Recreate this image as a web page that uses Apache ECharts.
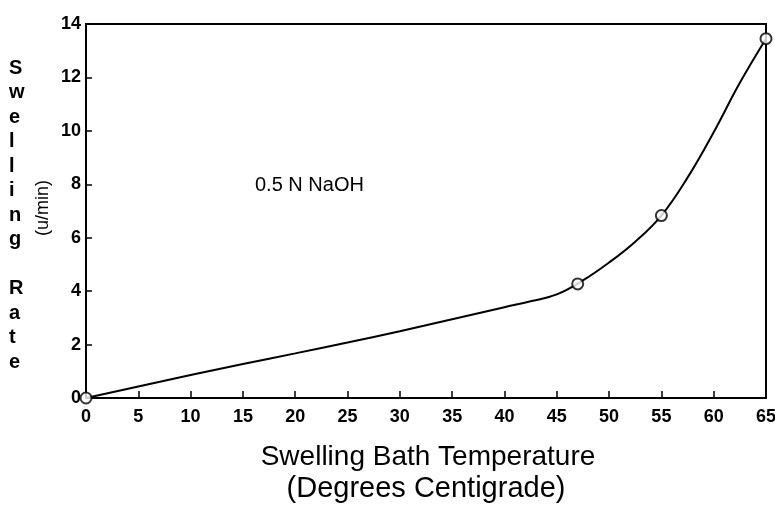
<!DOCTYPE html>
<html>
<head>
<meta charset="utf-8">
<script src="https://cdn.jsdelivr.net/npm/echarts@6/dist/echarts.min.js"></script>
<style>
  html, body { margin: 0; padding: 0; background: #fff; }
  #chart { width: 775px; height: 506px; }
</style>
</head>
<body>
<div id="chart"></div>
<script>
// Measured points (open circles)
const markerTemps = [0, 47, 55, 65];
const markerRates = [0, 4.27, 6.83, 13.45];

// Fitted curve
const curveTemps = [0, 5, 10, 15, 20, 25, 30, 35, 40, 42.5, 45, 47.5, 50, 52.5, 55, 57.5, 60, 62.5, 65];
const curveRates = [0, 0.43, 0.86, 1.27, 1.67, 2.08, 2.5, 2.95, 3.4, 3.62, 3.88, 4.4, 5.07, 5.85, 6.83, 8.25, 9.95, 11.8, 13.45];

const xTicks = { min: 0, max: 65, interval: 5 };
const yTicks = { min: 0, max: 14, interval: 2 };

const yTitleLetters = ['S', 'w', 'e', 'l', 'l', 'i', 'n', 'g', '', 'R', 'a', 't', 'e'];
const yUnit = '(u/min)';
const xTitle = ['Swelling Bath Temperature', '(Degrees Centigrade)'];
const note = '0.5 N NaOH';

const FONT = '"Liberation Sans", Arial, sans-serif';

const chart = echarts.init(document.getElementById('chart'));

chart.setOption({
  animation: false,
  backgroundColor: '#fff',
  grid: {
    left: 86, right: 9, top: 24, bottom: 108,
    outerBoundsMode: 'none',
    show: true, borderColor: '#000', borderWidth: 2
  },
  xAxis: {
    type: 'value',
    min: xTicks.min, max: xTicks.max, interval: xTicks.interval,
    axisLine: { lineStyle: { color: '#000', width: 2 } },
    axisTick: { inside: true, length: 7, lineStyle: { color: '#000', width: 1.5 } },
    splitLine: { show: false },
    axisLabel: { color: '#000', fontFamily: FONT, fontWeight: 'bold', fontSize: 18, margin: 10 }
  },
  yAxis: {
    type: 'value',
    min: yTicks.min, max: yTicks.max, interval: yTicks.interval,
    axisLine: { show: true, lineStyle: { color: '#000', width: 2 } },
    axisTick: { show: true, inside: true, length: 6, lineStyle: { color: '#000', width: 1.5 } },
    splitLine: { show: false },
    axisLabel: { color: '#000', fontFamily: FONT, fontWeight: 'bold', fontSize: 18, margin: 5 }
  },
  series: [
    {
      type: 'line',
      data: curveTemps.map((t, i) => [t, curveRates[i]]),
      smooth: 0.4,
      showSymbol: false,
      lineStyle: { color: '#000', width: 2 },
      z: 2
    },
    {
      type: 'scatter',
      data: markerTemps.map((t, i) => [t, markerRates[i]]),
      symbol: 'circle',
      symbolSize: 11,
      itemStyle: { color: '#fff', borderColor: '#000', borderWidth: 2 },
      z: 3
    }
  ],
  graphic: [
    {
      type: 'text', left: 9, top: 56,
      style: {
        text: yTitleLetters.join('\n'),
        font: 'bold 20px ' + FONT, lineHeight: 24.5,
        fill: '#000', align: 'center'
      }
    },
    {
      type: 'text', x: 43, y: 208, rotation: Math.PI / 2,
      style: {
        text: yUnit, font: '18px ' + FONT, fill: '#000',
        align: 'center', verticalAlign: 'middle'
      }
    },
    {
      type: 'text', x: 255, y: 185,
      style: { text: note, font: '20px ' + FONT, fill: '#000', verticalAlign: 'middle' }
    },
    {
      type: 'text', x: 428, y: 457,
      style: { text: xTitle[0], font: '28px ' + FONT, fill: '#000', align: 'center', verticalAlign: 'middle' }
    },
    {
      type: 'text', x: 426, y: 489,
      style: { text: xTitle[1], font: '29px ' + FONT, fill: '#000', align: 'center', verticalAlign: 'middle' }
    }
  ]
});
</script>
</body>
</html>
